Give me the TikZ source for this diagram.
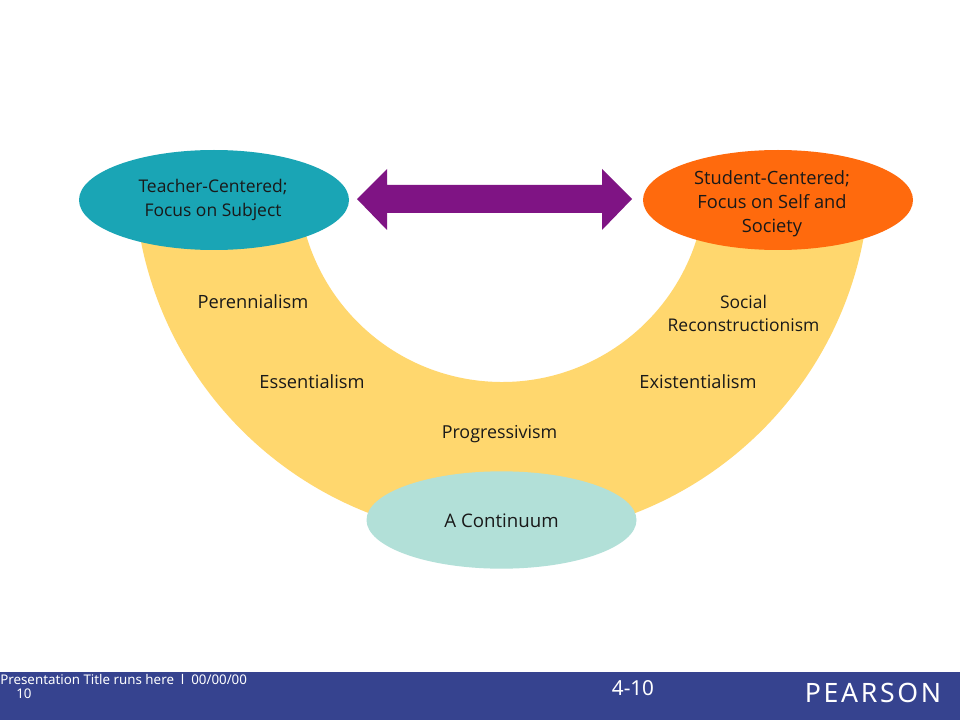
\documentclass[tikz,border=0pt]{standalone}
\usepackage{fontspec}
\setmainfont{Open Sans}
\newfontfamily\footfont{Noto Sans}
\usetikzlibrary{shapes.geometric}
\definecolor{arch}{HTML}{FFD76E}
\definecolor{tealc}{HTML}{1AA5B5}
\definecolor{orangec}{HTML}{FF6A0D}
\definecolor{mintc}{HTML}{B2E0D8}
\definecolor{purplec}{HTML}{7F1484}
\definecolor{barc}{HTML}{36438F}
\tikzset{
  oval/.style={ellipse,minimum width=#1,inner sep=0pt,align=center},
  lab/.style={align=center,font=\fontsize{13.7}{18}\selectfont,text=black!90},
  labsmall/.style={align=center,font=\fontsize{13.1}{17.5}\selectfont,text=black!90},
  foot/.style={text=white,anchor=west,inner sep=0pt,font=\footfont\fontsize{10}{11}\selectfont},
}
\begin{document}
\begin{tikzpicture}[x=0.75pt,y=-0.75pt]
\useasboundingbox (0,0) rectangle (960,720);
\fill[white] (0,0) rectangle (960,720);
% arch
\fill[arch] (135.2,200)
  arc[start angle=175.32,end angle=4.68,radius=368] -- (704.8,200)
  arc[start angle=6.19,end angle=173.81,radius=204] -- cycle;
% arrow
\fill[purplec] (357,199) -- (387,169) -- (387,185) -- (602,185) -- (602,169) -- (632,199) -- (602,230) -- (602,213) -- (387,213) -- (387,230) -- cycle;
% ovals
\node[oval=202.5pt,minimum height=75pt,fill=tealc] (teacher) at (214,200) {};
\node[labsmall] (tt) at (213,200) {Teacher-Centered;\\Focus on Subject};
\node[oval=202.5pt,minimum height=75pt,fill=orangec] (student) at (778,200) {};
\node[lab] (st) at (772,204) {Student-Centered;\\Focus on Self and\\Society};
\node[oval=202.5pt,minimum height=73pt,fill=mintc] (cont) at (501.5,520) {};
\node[lab] (ct) at (501.5,521) {\fontsize{14}{18}\selectfont A Continuum};
% labels
\node[lab] (per) at (253,302) {Perennialism};
\node[lab] (ess) at (312,382) {Essentialism};
\node[lab,font=\fontsize{13.4}{18}\selectfont] (pro) at (499.5,434) {Progressivism};
\node[lab] (exi) at (698,382) {Existentialism};
\node[labsmall] (soc) at (743.5,313.5) {Social\\Reconstructionism};
% footer
\fill[barc] (0,672) rectangle (960,720);
\node[foot] (title) at (0,679.5) {Presentation Title runs here\ \ l\ \ 00/00/00};
\node[foot] (num) at (16,694) {10};
\node[text=white,inner sep=0pt,font=\footfont\fontsize{15.5}{17}\selectfont] (page) at (633,688) {4-10};
\node[text=white,inner sep=0pt,font=\footfont\fontsize{20}{22}\selectfont] (logo) at (873,693) {P\kern2pt E\kern2pt A\kern2pt R\kern2pt S\kern2pt O\kern2pt N};
\end{tikzpicture}
\end{document}
